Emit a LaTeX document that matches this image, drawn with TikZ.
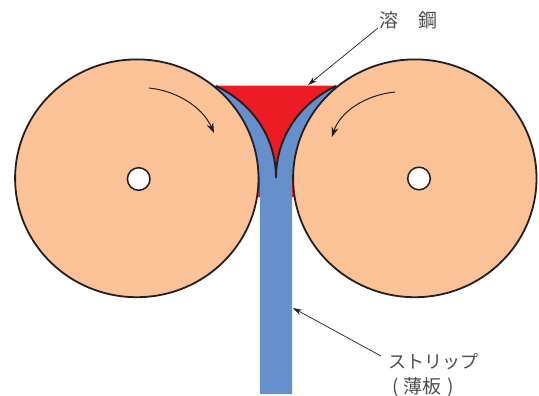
\documentclass[tikz,border=0pt]{standalone}
\usepackage{fontspec}
\setmainfont{Liberation Serif}
\newfontfamily\cjk{Noto Sans CJK JP}
\usetikzlibrary{arrows.meta,shapes.geometric}
\definecolor{peach}{HTML}{FBC297}
\definecolor{melt}{HTML}{ED1C24}
\definecolor{strip}{HTML}{6690CC}
\definecolor{ink}{HTML}{231F20}
\tikzset{
  roll/.style={ellipse,draw=ink,line width=1.8pt,fill=peach,minimum width=243.4pt,minimum height=237.8pt,inner sep=0pt,outer sep=0pt},
  hub/.style={circle,draw=ink,line width=1.5pt,fill=white,minimum size=22.6pt,inner sep=0pt,outer sep=0pt},
  spin/.style={draw=ink,line width=1pt,-{Stealth[length=10pt,width=7pt]}},
  lead/.style={draw=ink,line width=0.7pt,-{Stealth[length=9pt,width=5.5pt]}},
  lab/.style={font=\cjk\fontsize{19}{19}\selectfont,text=ink!80,inner sep=0pt,anchor=center},
  kana/.style={font=\cjk\fontsize{18}{18}\selectfont,text=ink!80,inner sep=0pt,anchor=west},
  edge/.style={draw=ink,line width=1.9pt,line cap=butt}
}
\begin{document}
\begin{tikzpicture}[x=1pt,y=-1pt]
\useasboundingbox (0,0) rectangle (539,396);
% molten steel and strip
\fill[melt] (214,85.7) -- (338,85.7) -- (296,197) -- (256,197) -- cycle;
\fill[strip] (216,86) .. controls (250,102) and (276,135) .. (276,178)
  .. controls (276,135) and (302,102) .. (336,86) -- (305,150) -- (292,178) -- (292,394) -- (260,394) -- (260,178) -- (250,150) -- cycle;
% rolls
\node[roll] (rollL) at (136.8,178.3) {};
\node[roll] (rollR) at (414.8,178.3) {};
\node[hub] (hubL) at (138.7,179) {};
\node[hub] (hubR) at (419,178.5) {};
% inner solidified shell lines
\draw[edge] (216,86) .. controls (250,102) and (276,135) .. (276,178);
\draw[edge] (336,86) .. controls (302,102) and (276,135) .. (276,178);
% rotation arrows
\coordinate (aL0) at (149,88);
\coordinate (aL1) at (214,133);
\coordinate (aR0) at (395,92);
\coordinate (aR1) at (332,137);
\draw[spin] (aL0) .. controls (178,91) and (203,108) .. (aL1);
\draw[spin] (aR0) .. controls (365,95) and (340,112) .. (aR1);
% labels
\node[lab] (melt) at (408.5,20) {溶\hspace{20pt}鋼};
\node[kana] (st) at (388.5,362) {ストリップ};
\node[kana,font=\cjk\fontsize{19}{19}\selectfont] (th) at (392,387) {(\hspace{5pt}薄板\hspace{6pt})};
\coordinate (mTip) at (308,85);
\coordinate (sTip) at (293,308);
\coordinate (mEnd) at (378,28);
\coordinate (sEnd) at (381,356);
\draw[lead] (mEnd) -- (mTip);
\draw[lead] (sEnd) -- (sTip);
\end{tikzpicture}
\end{document}
